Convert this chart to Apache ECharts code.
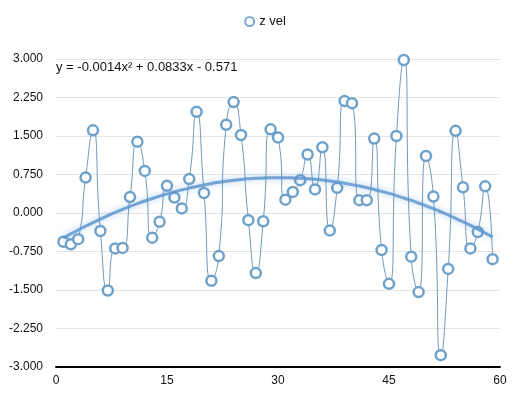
<!DOCTYPE html>
<html>
<head>
<meta charset="utf-8">
<script src="https://cdn.jsdelivr.net/npm/echarts@6/dist/echarts.min.js"></script>
<style>
html,body{margin:0;padding:0;background:#fff;}
#chart{width:530px;height:396px;}
</style>
</head>
<body>
<div id="chart"></div>
<script>
// x positions (sample index)
const xValues = [1,2,3,4,5,6,7,8,9,10,11,12,13,14,15,16,17,18,19,20,21,22,23,24,25,26,27,28,29,30,31,32,33,34,35,36,37,38,39,40,41,42,43,44,45,46,47,48,49,50,51,52,53,54,55,56,57,58,59];
// z vel values
const zVel = [-0.56,-0.61,-0.51,0.69,1.61,-0.35,-1.51,-0.69,-0.68,0.31,
              1.39,0.82,-0.48,-0.17,0.53,0.30,0.09,0.66,1.97,0.39,
              -1.32,-0.84,1.72,2.16,1.52,-0.14,-1.17,-0.16,1.63,1.47,
              0.26,0.41,0.64,1.14,0.46,1.28,-0.34,0.49,2.18,2.14,
              0.25,0.25,1.45,-0.72,-1.38,1.50,2.98,-0.85,-1.54,1.11,
              0.32,-2.77,-1.09,1.60,0.50,-0.69,-0.37,0.52,-0.90];
const seriesName = 'z vel';
const equationText = 'y = -0.0014x\u00B2 + 0.0833x - 0.571';
const yTickMin = -3, yTickMax = 3, yTickStep = 0.75;
const xTickMin = 0, xTickMax = 60, xTickStep = 15;

// least-squares quadratic fit of the data (trend line)
function quadFit(xs, ys) {
  let S = [0,0,0,0,0], T = [0,0,0];
  for (let i = 0; i < xs.length; i++) {
    const x = xs[i], y = ys[i];
    let p = 1;
    for (let k = 0; k < 5; k++) { S[k] += p; if (k < 3) T[k] += p * y; p *= x; }
  }
  const A = [[S[0],S[1],S[2],T[0]],[S[1],S[2],S[3],T[1]],[S[2],S[3],S[4],T[2]]];
  for (let c = 0; c < 3; c++) {
    for (let r = c + 1; r < 3; r++) {
      const f = A[r][c] / A[c][c];
      for (let k = c; k < 4; k++) A[r][k] -= f * A[c][k];
    }
  }
  const sol = [0,0,0];
  for (let r = 2; r >= 0; r--) {
    let s = A[r][3];
    for (let k = r + 1; k < 3; k++) s -= A[r][k] * sol[k];
    sol[r] = s / A[r][r];
  }
  return sol;
}
const coef = quadFit(xValues, zVel);
const trendData = xValues.map(x => [x, coef[0] + coef[1] * x + coef[2] * x * x]);
const pointData = xValues.map((x, i) => [x, zVel[i]]);

const chart = echarts.init(document.getElementById('chart'), null, {renderer: 'canvas'});
const font = 'Liberation Sans, Arial, sans-serif';
chart.setOption({
  animation: false,
  backgroundColor: '#ffffff',
  legend: {
    top: 10,
    left: 'center',
    data: [{name: seriesName, icon: 'circle',
      itemStyle: {color: '#ffffff', borderColor: '#7aaad0', borderWidth: 2}}],
    itemWidth: 9, itemHeight: 9, itemGap: 10,
    textStyle: {fontFamily: font, fontSize: 13, color: '#111'}
  },
  grid: {left: 56, right: 30, top: 59, bottom: 29, containLabel: false},
  xAxis: {
    type: 'value', min: xTickMin, max: xTickMax, interval: xTickStep,
    axisLine: {show: true, onZero: false, lineStyle: {color: '#000', width: 2}},
    axisTick: {show: false},
    splitLine: {show: false},
    axisLabel: {fontFamily: font, fontSize: 12, color: '#111', margin: 8}
  },
  yAxis: {
    type: 'value', min: yTickMin, max: yTickMax, interval: yTickStep,
    axisLine: {show: false},
    axisTick: {show: false},
    splitLine: {show: true, lineStyle: {color: '#e4e4e4', width: 1}},
    axisLabel: {fontFamily: font, fontSize: 12, color: '#111', margin: 13,
      formatter: v => v.toFixed(3)}
  },
  graphic: [{
    type: 'text', left: 56, top: 61,
    style: {text: equationText, font: '13px ' + font, fill: '#111'}
  }],
  series: [
    {
      name: seriesName, type: 'line', data: pointData,
      smooth: 0.6,
      symbol: 'circle', symbolSize: 10,
      lineStyle: {color: '#7199bb', width: 1},
      itemStyle: {color: '#ffffff', borderColor: '#6fa2cb', borderWidth: 2.5},
      z: 2
    },
    {
      name: 'trend', type: 'line', data: trendData,
      smooth: true, symbol: 'none', silent: true,
      lineStyle: {color: '#5e97cf', width: 3, opacity: 0.85,
        shadowColor: 'rgba(91,150,210,0.6)', shadowBlur: 6},
      z: 3
    }
  ]
});
</script>
</body>
</html>
